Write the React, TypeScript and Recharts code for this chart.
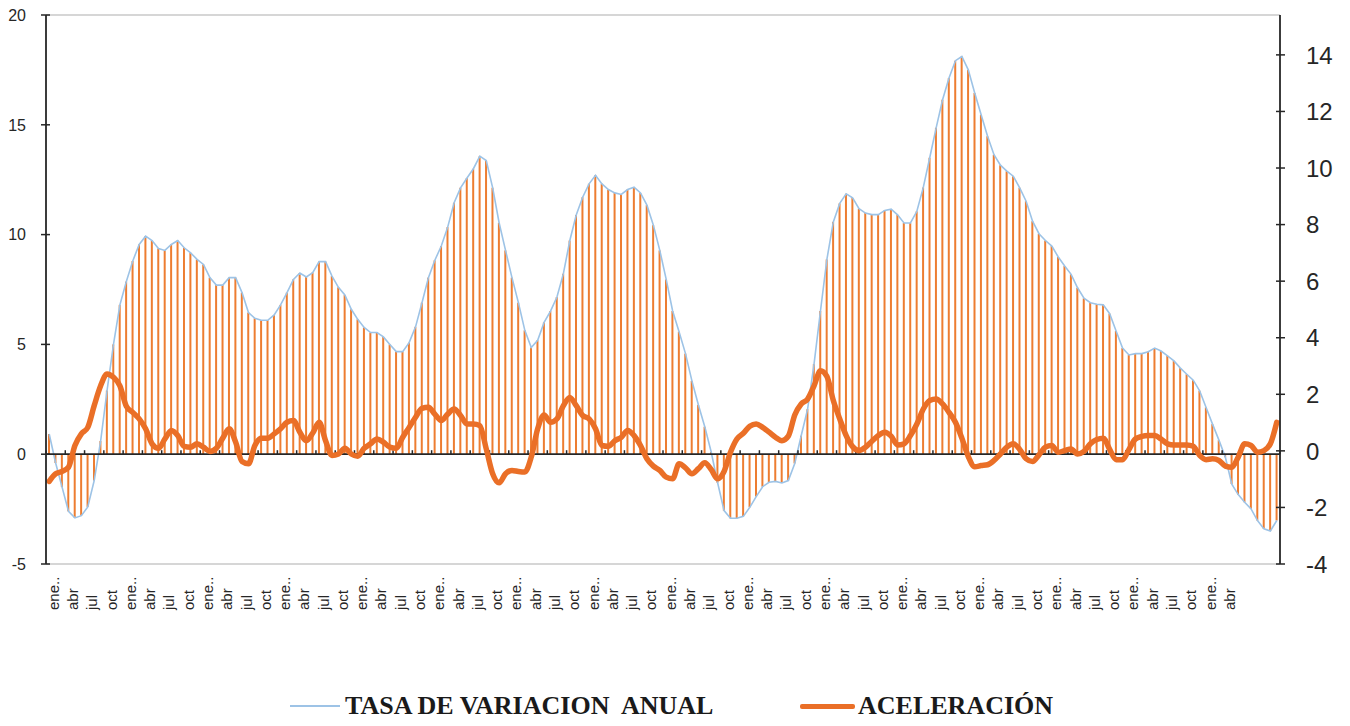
import React from 'react';
import { ComposedChart, Bar, Line, XAxis, YAxis, ReferenceLine } from 'recharts';

const monthNames = ['ene..', 'feb', 'mar', 'abr', 'may', 'jun', 'jul', 'ago', 'sep', 'oct', 'nov', 'dic'];
const lastLabeledIndex = 183;

// Tasa de variación anual (eje izquierdo)
const annualRate = [
  0.92, -0.4, -1.5, -2.6, -2.9, -2.8, -2.4, -1.2, 0.6, 2.9, 5.0, 6.8,
  7.86, 8.8, 9.55, 9.93, 9.73, 9.37, 9.28, 9.55, 9.73, 9.4, 9.17, 8.87,
  8.64, 8.04, 7.7, 7.7, 8.04, 8.04, 7.36, 6.45, 6.19, 6.1, 6.1, 6.34,
  6.8, 7.36, 7.96, 8.25, 8.07, 8.27, 8.77, 8.77, 8.11, 7.6, 7.25, 6.6,
  6.14, 5.77, 5.54, 5.54, 5.34, 5.0, 4.67, 4.67, 5.08, 5.8, 6.9, 8.04,
  8.83, 9.48, 10.34, 11.45, 12.13, 12.58, 13.0, 13.57, 13.37, 12.13, 10.54, 9.28,
  8.04, 6.9, 5.64, 4.86, 5.19, 6.0, 6.52, 7.16, 8.22, 9.73, 10.89, 11.7,
  12.31, 12.7, 12.31, 12.05, 11.9, 11.83, 12.05, 12.16, 11.9, 11.34, 10.43, 9.28,
  7.96, 6.52, 5.58, 4.58, 3.34, 2.25, 1.25, 0.1, -1.3, -2.57, -2.92, -2.92,
  -2.83, -2.42, -1.93, -1.48, -1.28, -1.24, -1.31, -1.2, -0.42, 0.84, 2.05, 4.1,
  6.52, 8.87, 10.58, 11.42, 11.86, 11.67, 11.18, 10.98, 10.91, 10.91, 11.1, 11.16,
  10.9, 10.53, 10.53, 11.06, 12.15, 13.5, 14.86, 16.14, 17.13, 17.92, 18.11, 17.5,
  16.45, 15.46, 14.48, 13.64, 13.16, 12.89, 12.66, 12.13, 11.52, 10.61, 10.04, 9.73,
  9.48, 8.98, 8.57, 8.19, 7.58, 7.1, 6.9, 6.83, 6.8, 6.4, 5.61, 4.83,
  4.52, 4.58, 4.58, 4.67, 4.83, 4.7, 4.48, 4.25, 3.92, 3.64, 3.37, 2.89,
  2.13, 1.37, 0.64, -0.14, -1.36, -1.84, -2.19, -2.49, -3.02, -3.4, -3.5, -3.02,
];

// Aceleración (eje derecho)
const acceleration = [
  -1.08, -0.81, -0.73, -0.58, 0.19, 0.6, 0.83, 1.6, 2.3, 2.72, 2.6, 2.3,
  1.58, 1.36, 1.13, 0.78, 0.25, 0.09, 0.42, 0.72, 0.54, 0.16, 0.13, 0.25,
  0.13, -0.02, 0.09, 0.45, 0.78, 0.31, -0.38, -0.46, 0.19, 0.45, 0.45, 0.6,
  0.78, 1.01, 1.07, 0.66, 0.36, 0.63, 1.01, 0.36, -0.16, -0.11, 0.09, -0.11,
  -0.19, 0.09, 0.25, 0.42, 0.31, 0.13, 0.09, 0.48, 0.83, 1.19, 1.5, 1.54,
  1.3, 1.07, 1.3, 1.48, 1.25, 0.95, 0.95, 0.89, 0.07, -0.81, -1.13, -0.81,
  -0.69, -0.73, -0.75, -0.22, 0.78, 1.27, 1.01, 1.13, 1.6, 1.89, 1.6, 1.25,
  1.13, 0.78, 0.19, 0.16, 0.36, 0.48, 0.72, 0.54, 0.19, -0.28, -0.54, -0.69,
  -0.93, -0.99, -0.46, -0.6, -0.81, -0.63, -0.42, -0.66, -0.99, -0.73, -0.05, 0.42,
  0.62, 0.87, 0.95, 0.83, 0.66, 0.48, 0.36, 0.52, 1.27, 1.66, 1.83, 2.3,
  2.83, 2.63, 1.78, 1.13, 0.54, 0.15, 0.01, 0.13, 0.34, 0.54, 0.66, 0.52,
  0.21, 0.25, 0.54, 0.95, 1.48, 1.78, 1.83, 1.66, 1.36, 1.01, 0.45, -0.2,
  -0.56, -0.52, -0.49, -0.34, -0.11, 0.13, 0.25, 0.05, -0.28, -0.38, -0.14, 0.13,
  0.19, -0.05, 0.01, 0.07, -0.11, -0.02, 0.25, 0.4, 0.45, 0.05, -0.31, -0.31,
  0.05, 0.42, 0.51, 0.54, 0.54, 0.42, 0.25, 0.21, 0.21, 0.21, 0.16, -0.16,
  -0.31, -0.28, -0.34, -0.54, -0.58, -0.22, 0.25, 0.19, -0.05, 0.01, 0.25, 1.01,
];

const leftTicks = [-5, 0, 5, 10, 15, 20];
const rightTicks = [-4, -2, 0, 2, 4, 6, 8, 10, 12, 14];

const data = annualRate.map((v, i) => ({
  label: i <= lastLabeledIndex ? monthNames[i % 12] : '',
  annual: v,
  accel: acceleration[i],
}));

const CHART_W = 1334;
const LEFT_AXIS_W = 38;
const RIGHT_AXIS_W = 62;
const RIGHT_AXIS_X = CHART_W - RIGHT_AXIS_W;

const AXIS_COLOR = '#262626';
const BAR_COLOR = '#ED7D31';
const ACCEL_COLOR = '#EA6F27';
const RATE_COLOR = '#9DC3E6';
const SANS = "'Liberation Sans', Arial, sans-serif";

const renderLeftTick = (props: any) => {
  const { y, payload } = props;
  const axisX = LEFT_AXIS_W;
  return (
    <g key={`l-${payload.value}`}>
      <line x1={axisX - 5} x2={axisX + 4} y1={y} y2={y} stroke={AXIS_COLOR} strokeWidth={1.5} />
      <text x={axisX - 20} y={y} dy="0.36em" textAnchor="end" fontSize={16} fill={AXIS_COLOR} fontFamily={SANS}>
        {payload.value}
      </text>
    </g>
  );
};

const renderRightTick = (props: any) => {
  const { y, payload } = props;
  const axisX = RIGHT_AXIS_X;
  return (
    <g key={`r-${payload.value}`}>
      <line x1={axisX - 4} x2={axisX + 5} y1={y} y2={y} stroke={AXIS_COLOR} strokeWidth={1.5} />
      <text x={axisX + 26} y={y} dy="0.36em" textAnchor="start" fontSize={24} fill={AXIS_COLOR} fontFamily={SANS}>
        {payload.value}
      </text>
    </g>
  );
};

const renderMonthTick = (props: any) => {
  const { x, y, payload, index } = props;
  if (!payload || !payload.value) return <g key={`m-${index}`} />;
  return (
    <text
      key={`m-${index}`}
      transform={`translate(${x + 9.5},${y + 46}) rotate(-90)`}
      textAnchor="start"
      fontSize={15}
      fill={AXIS_COLOR}
      fontFamily={SANS}
    >
      {payload.value}
    </text>
  );
};

const ZeroLine = (props: any) => {
  const { x1, y1, x2 } = props;
  const n = data.length;
  const marks = [];
  for (let k = 0; k <= n; k += 3) {
    const tx = x1 + ((x2 - x1) * k) / n;
    marks.push(<line key={k} x1={tx} x2={tx} y1={y1 - 4} y2={y1} stroke={AXIS_COLOR} strokeWidth={1.5} />);
  }
  return (
    <g>
      <line x1={x1} x2={x2} y1={y1} y2={y1} stroke={AXIS_COLOR} strokeWidth={1.8} />
      {marks}
    </g>
  );
};

const legendText: React.CSSProperties = {
  fontFamily: "'Liberation Serif', 'Times New Roman', serif",
  fontWeight: 'bold',
  fontSize: 26,
  lineHeight: '26px',
  color: '#1a1a1a',
  whiteSpace: 'pre',
};

export default function App() {
  return (
    <div style={{ position: 'relative', width: CHART_W, height: 706 }}>
      <ComposedChart
        width={CHART_W}
        height={612}
        data={data}
        margin={{ top: 7, right: 0, bottom: 0, left: 0 }}
      >
        <XAxis
          dataKey="label"
          interval={2}
          tickLine={false}
          axisLine={false}
          tickSize={0}
          tickMargin={0}
          height={56}
          tick={renderMonthTick}
        />
        <YAxis
          yAxisId="left"
          domain={[-5, 20]}
          ticks={leftTicks}
          interval={0}
          width={LEFT_AXIS_W}
          tickLine={false}
          axisLine={{ stroke: AXIS_COLOR, strokeWidth: 1.8 }}
          tick={renderLeftTick}
        />
        <YAxis
          yAxisId="right"
          orientation="right"
          domain={[-4, 15.41]}
          ticks={rightTicks}
          interval={0}
          width={RIGHT_AXIS_W}
          tickLine={false}
          axisLine={{ stroke: AXIS_COLOR, strokeWidth: 1.8 }}
          tick={renderRightTick}
          allowDataOverflow
        />
        <ReferenceLine yAxisId="left" y={20} stroke="#C8C8C8" strokeWidth={1.5} />
        <ReferenceLine yAxisId="left" y={-5} stroke="#C8C8C8" strokeWidth={1.5} />
        <Bar yAxisId="left" dataKey="annual" fill={BAR_COLOR} barSize={2} isAnimationActive={false} />
        <Line
          yAxisId="left"
          dataKey="annual"
          type="linear"
          stroke={RATE_COLOR}
          strokeWidth={1.6}
          dot={false}
          activeDot={false}
          isAnimationActive={false}
        />
        <ReferenceLine yAxisId="left" y={0} shape={ZeroLine} />
        <Line
          yAxisId="right"
          dataKey="accel"
          type="monotone"
          stroke={ACCEL_COLOR}
          strokeWidth={5.5}
          strokeLinejoin="round"
          strokeLinecap="round"
          dot={false}
          activeDot={false}
          isAnimationActive={false}
        />
      </ComposedChart>
      <div style={{ position: 'absolute', left: 282, top: 685, height: 26, display: 'flex', alignItems: 'center' }}>
        <div style={{ width: 50, height: 2, background: RATE_COLOR, marginRight: 5 }} />
        <span style={legendText}>TASA DE VARIACION  ANUAL</span>
      </div>
      <div style={{ position: 'absolute', left: 792, top: 685, height: 26, display: 'flex', alignItems: 'center' }}>
        <div style={{ width: 55, height: 5, background: ACCEL_COLOR, marginRight: 3, borderRadius: 2 }} />
        <span style={legendText}>ACELERACIÓN</span>
      </div>
    </div>
  );
}
